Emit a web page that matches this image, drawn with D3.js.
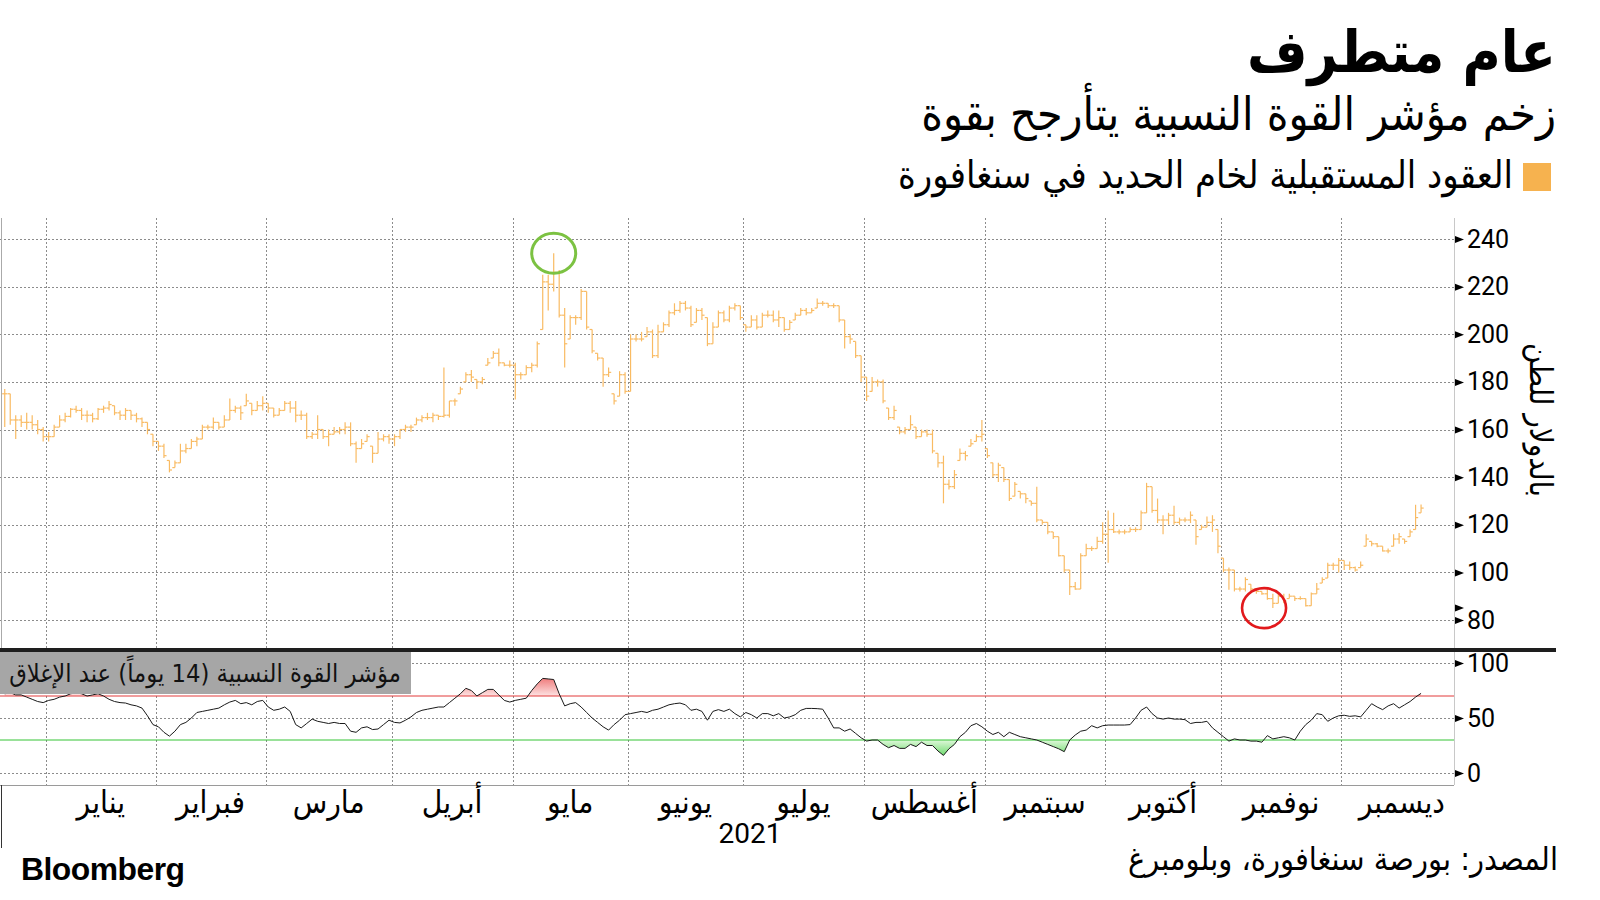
<!DOCTYPE html>
<html><head><meta charset="utf-8">
<script src="https://cdn.jsdelivr.net/npm/d3@7"></script>
<style>body{margin:0;background:#fff;} svg{display:block}</style>
</head><body><svg id="c" width="1600" height="900"></svg>
<script>
// ---------- DATA ----------
const titleText = "عام متطرف";
const subtitleText = "زخم مؤشر القوة النسبية يتأرجح بقوة";
const legendText = "العقود المستقبلية لخام الحديد في سنغافورة";
const yTitle = "بالدولار للطن";
const rsiLabel = "مؤشر القوة النسبية (14 يوماً) عند الإغلاق";
const sourceText = "المصدر: بورصة سنغافورة، وبلومبرغ";
const yearLabel = "2021";
const months = ["يناير","فبراير","مارس","أبريل","مايو","يونيو","يوليو","أغسطس","سبتمبر","أكتوبر","نوفمبر","ديسمبر"];
// trading-day index where each month starts (bar index), last value = end of Dec band
const monthStart = [8,28,48,71,93,114,135,157,179,201,222,244,266];
const priceTicks = [80,100,120,140,160,180,200,220,240];
const rsiTicks = [0,50,100];
const rsiUpper = 70, rsiLower = 30;

const closes = [
175,164,164,163,163,162,160,157,
157,161,164,165.5,168.5,168,166,166,164.5,168.5,169,170.5,167,166,168,166,164.5,163,160,155,
153,149,143,146,151,152,155,156,161,161,163,161,164,168,169,167,172,168,170,171,
169,166,168,171,169,166,166,157,158,160,157,158,159,160,161,154,152,154,157,150,156,157,156,
157,160,161,161,164,165,165,166,165.5,166,172,172,177,183,182,180,181,188,192,188,187,187,
183,183,186,187,196,222,221,226,208,196,207,207,218,203,193,190,183,184,172,183,176,
198,198,198,201,191,201,204,209,210,213,211,204,210,208,196,203,209,206,211,212,207,
203,206,203,208,208,206,207,202,205,208,210,209,210,213,213,212,212,206,199,198,191,182,
174,180,180,172,165,168,159,160,162,157,159,158,151,146,137,136,141,150,149,154,157,158,
149,141,145,139,131,137,133,131,129,122,121,117,115,107,101,94,93,107,110,110,113,116,
118,117,117,117,118,118,125,136,126,122,122,124,121,122,122,124,115,119,121,122,111,
101,101,93,93,97,93,92,91,89,87,90,88,90,89,89,86,91,93,97,103,103,105,
103,102,101,103,114,112,111,109,109,114,115,113,117,123,127];
const highs = [
177,175,166,166,167,166,164,161,
159,162,166,167,169,170,169,168,167,169,170,172,170,168,169,168,167,165,163,158,
155,154,147,147,154,154,156,157,162,162,165,163,166,173,170,170,175,171,172,174,
171,169,169,172,172,172,168,167,159,166,160,160,161,161,163,163,155,156,158,153,159,158,158,
158,160,162,162,165,166,167,167,166,186,172,173,178,184,185,181,182,190,193,194,188,189,
188,184,187,188,197,225,225,234,227,211,208,208,219,218,202,192,190,186,175,184.5,184,
200,200,201,203,202,204,205,210,213,214,214,212,211,211,207,205,210,210,212,213,212,
204,208,208,209,210,210,210,207,206,209,211,211,211,215,214,213,213,212,206,200,197,191,
182,182,181,181,169,170,161,161,166,161,160,160,160,150,149,139,143,152,151,156,158,164,
152,146,146,144,139,138,134,133,130,136,122,121,117,115,107,101,96,108,112,111,115,121,
126,125,118,118,119,119,126,137.6,136,131,124,125,128,123,123,125.6,122,120,123.5,124,118,
106,102,101,94,98,95,93,92,93,91,91,91,91,90,90,89,91.5,95.5,98,104,104,106,
105,104.6,102.5,104.6,116,113,112.3,111,110,116,116.5,114,118,128.4,128.5];
const lows = [
161,162,156,161,160,160,158,155,
155,157,161,163,165,167,164,163,163,164,167,168,166,164,164,164,163,161,158,153,
151,148,142,144,146,150,152,153,156,160,160,160,161,164,167,164,170,166,168,168,
167,165,166,168,167,163,164,156,156,156,156,153,158,158,158,153,146,152,155,146,150,155,154,
153,156,159,159,162,163,164,163,164,165,165,170,175,180,180,177,179,187,190,186.6,186.6,186,
172.6,181,183,184,186,202,210,218,207,186,198,204,206,202,192,189,178,182,170.5,174,175,
176,197,197,199,190,190,201,203,208,209,210,203,205,206,195,196,203,205,205,210,206,
201,203,202,203,207,205,203,201,202,206,208,208,209,211,212,211,211,205,194,196,190,180,
172,176,178,171,164,164,158,158,160,156,157,157,150,144,129,134.8,135,147,147,153,155,155,
148,140,138,138,130,132,131,129,128,121,120,116,114,106.7,100,90.5,92.7,93,107,109,110,112,
104,116.5,116,116,117,117,118,125,125,120.7,116,120,120,120,121,120.7,111.6,118,119,117,108,
100,92.7,92,92,92,92,91,90.6,88.5,85,87,87,89,88,88.5,85.7,86,91,95.5,97.6,101,100,
101,101,100.4,102,111,111,110.5,108.8,108,111,112,112,115,118,125];
const rsi = [
72,73,71,71,69,67,65,64,
66,67,69,70,72,73,72,70,71,72,70,67,65,64,63.6,62,61,59,52,44,
42,37,33.5,38,44,46,50,55,56,57,58,59,62,64.5,66,63,64,62,65,66,
60,57,58,60,56,44,41,45,49,47,46,45,46,45,45,38,37,41,42,39.5,40,44,48,
46,45.5,48,51,55,57,58,59,60,60,64,68,72,77,75,70,73,76,76,71,66,64.5,
66,67,68,75,81,86,85.5,85,72,61,63,64,60,55,50,46,42,39,44,48,53,
54,55,56,55,57,58,60,62,63,63.6,62,57,58,56,48,56,57.6,56,58,54,51,
55,53,50,54,54,52,54,50,51,53,57,58.7,58.7,58.5,58,50,41,41,38,40,36,32,
29,30,30,26,23,25,22.4,22.4,26,24,28,25,25,20,16,22,26,33,37,43,45,42,
38,35,37,33,37,35,33,32,31,30,28,26,24,22,19.4,30,34.5,38,39,43,41,43,
43.6,43.6,43.6,43.6,44,50,57,60,54,50,49,50,49,49,48.5,45,46,46,47,41,37,
33,29,31,30,30,29,29,28,34,31,32,33,32,30,38,44,48,54,53,47,50,52,
52.5,51.5,52,51,57,63,60,57.6,61,63,59,62,65,69,72.4];
// annotation ellipses (bar index, price value)
const highMark = {i: 100, v: 234};
const lowMark = {i: 229.4, v: 85};

// ---------- LAYOUT ----------
const svg = d3.select('#c');
const AR = "'DejaVu Sans Condensed','DejaVu Sans',sans-serif";
const NUM = "Roboto,'Liberation Sans',sans-serif";
const plotL = 2, plotR = 1454, mainTop = 218, mainBot = 650, rsiTop = 652, rsiBot = 785;
const N = closes.length;
const x = d3.scaleLinear().domain([0, 264.5]).range([plotL, plotR]);
const y = d3.scaleLinear().domain([80, 240]).range([620, 239]);
const yR = d3.scaleLinear().domain([0, 100]).range([773, 663]);
const idx = d3.range(N);
const cx = i => x(i + 0.5);

function fit(sel, target){
  const w = sel.node().getComputedTextLength();
  const fs = parseFloat(sel.attr('font-size'));
  sel.attr('font-size', (fs * target / w).toFixed(2));
}

// ---------- HEADER ----------
const t1 = svg.append('text').attr('x', 1556).attr('y', 72).attr('direction','rtl').attr('text-anchor','start')
  .attr('font-family', AR).attr('font-weight','bold').attr('font-size', 54).attr('fill','#000').text(titleText);
fit(t1, 309);
const t2 = svg.append('text').attr('x', 1556).attr('y', 130).attr('direction','rtl').attr('text-anchor','start')
  .attr('font-family', AR).attr('font-size', 38).attr('fill','#000').text(subtitleText);
fit(t2, 635);
svg.append('rect').attr('x', 1523).attr('y', 163).attr('width', 28).attr('height', 28).attr('fill', '#f6b24f');
const t3 = svg.append('text').attr('x', 1513).attr('y', 188).attr('direction','rtl').attr('text-anchor','start')
  .attr('font-family', AR).attr('font-size', 30).attr('fill','#000').text(legendText);
fit(t3, 615);

// ---------- GRID ----------
const grid = svg.append('g').attr('stroke', '#8c8c8c').attr('stroke-width', 1).attr('stroke-dasharray', '2,2').attr('fill','none');
grid.selectAll('line.hm').data(priceTicks).join('line')
  .attr('x1', 0).attr('x2', plotR).attr('y1', d => Math.round(y(d)) + 0.5).attr('y2', d => Math.round(y(d)) + 0.5);
grid.selectAll('line.hr').data(rsiTicks).join('line')
  .attr('x1', 0).attr('x2', plotR).attr('y1', d => Math.round(yR(d)) + 0.5).attr('y2', d => Math.round(yR(d)) + 0.5);
const msLines = monthStart.slice(0, 12);
grid.selectAll('line.vm').data(msLines).join('line')
  .attr('x1', d => Math.round(x(d)) + 0.5).attr('x2', d => Math.round(x(d)) + 0.5).attr('y1', mainTop).attr('y2', mainBot);
grid.selectAll('line.vr').data(msLines).join('line')
  .attr('x1', d => Math.round(x(d)) + 0.5).attr('x2', d => Math.round(x(d)) + 0.5).attr('y1', rsiTop).attr('y2', rsiBot);

// frame lines
svg.append('line').attr('x1', 1.5).attr('x2', 1.5).attr('y1', mainTop).attr('y2', mainBot).attr('stroke', '#aaa');
svg.append('line').attr('x1', plotR + 0.5).attr('x2', plotR + 0.5).attr('y1', mainTop).attr('y2', rsiBot).attr('stroke', '#c8c8c8');
svg.append('line').attr('x1', 0).attr('x2', plotR).attr('y1', rsiBot + 0.5).attr('y2', rsiBot + 0.5).attr('stroke', '#9a9a9a');
svg.append('line').attr('x1', 1.5).attr('x2', 1.5).attr('y1', rsiBot).attr('y2', 848).attr('stroke', '#333');

// ---------- OHLC BARS ----------
const bars = svg.append('g').attr('stroke', '#f9bb63').attr('stroke-width', 1.2).attr('fill', 'none');
const opens = idx.map(i => {
  const o = i === 0 ? closes[0] : closes[i - 1];
  return Math.max(lows[i], Math.min(highs[i], o));
});
bars.selectAll('line.hl').data(idx).join('line')
  .attr('x1', cx).attr('x2', cx).attr('y1', i => y(highs[i])).attr('y2', i => y(lows[i]));
bars.selectAll('line.op').data(idx).join('line')
  .attr('x1', i => cx(i) - 2.6).attr('x2', cx).attr('y1', i => y(opens[i])).attr('y2', i => y(opens[i]));
bars.selectAll('line.cl').data(idx).join('line')
  .attr('x1', cx).attr('x2', i => cx(i) + 2.6).attr('y1', i => y(closes[i])).attr('y2', i => y(closes[i]));

// annotations
svg.append('ellipse').attr('cx', cx(highMark.i)).attr('cy', y(highMark.v)).attr('rx', 22).attr('ry', 20)
  .attr('fill', 'none').attr('stroke', '#7cc242').attr('stroke-width', 3);
svg.append('ellipse').attr('cx', cx(lowMark.i)).attr('cy', y(lowMark.v)).attr('rx', 22).attr('ry', 20)
  .attr('fill', 'none').attr('stroke', '#e2191c').attr('stroke-width', 2.6);

// ---------- RSI ----------
const defs = svg.append('defs');
defs.append('clipPath').attr('id', 'ab').append('rect').attr('x', 0).attr('y', rsiTop).attr('width', plotR).attr('height', yR(rsiUpper) - rsiTop);
defs.append('clipPath').attr('id', 'bl').append('rect').attr('x', 0).attr('y', yR(rsiLower)).attr('width', plotR).attr('height', rsiBot - yR(rsiLower));
const gr = defs.append('linearGradient').attr('id', 'gr').attr('gradientUnits', 'userSpaceOnUse')
  .attr('x1', 0).attr('x2', 0).attr('y1', yR(88)).attr('y2', yR(rsiUpper));
gr.append('stop').attr('offset', 0).attr('stop-color', '#ee7070');
gr.append('stop').attr('offset', 1).attr('stop-color', '#fde3e3');
const gg = defs.append('linearGradient').attr('id', 'gg').attr('gradientUnits', 'userSpaceOnUse')
  .attr('x1', 0).attr('x2', 0).attr('y1', yR(rsiLower)).attr('y2', yR(14));
gg.append('stop').attr('offset', 0).attr('stop-color', '#dff8da');
gg.append('stop').attr('offset', 1).attr('stop-color', '#5fd65f');

svg.append('path').datum(idx).attr('clip-path', 'url(#ab)').attr('fill', 'url(#gr)')
  .attr('d', d3.area().x(cx).y0(yR(rsiUpper)).y1(i => yR(rsi[i])));
svg.append('path').datum(idx).attr('clip-path', 'url(#bl)').attr('fill', 'url(#gg)')
  .attr('d', d3.area().x(cx).y0(yR(rsiLower)).y1(i => yR(rsi[i])));
svg.append('line').attr('x1', 0).attr('x2', plotR).attr('y1', yR(rsiUpper)).attr('y2', yR(rsiUpper)).attr('stroke', '#e23b3b').attr('stroke-width', 1);
svg.append('line').attr('x1', 0).attr('x2', plotR).attr('y1', yR(rsiLower)).attr('y2', yR(rsiLower)).attr('stroke', '#35c435').attr('stroke-width', 1);
svg.append('path').datum(idx).attr('fill', 'none').attr('stroke', '#1a1a1a').attr('stroke-width', 1)
  .attr('d', d3.line().x(cx).y(i => yR(rsi[i])));

// RSI label box
svg.append('rect').attr('x', 0).attr('y', 650).attr('width', 411).attr('height', 44).attr('fill', '#a6a6a6');
const rl = svg.append('text').attr('x', 401).attr('y', 682).attr('direction','rtl').attr('text-anchor','start')
  .attr('font-family', AR).attr('font-size', 24).attr('fill', '#111').text(rsiLabel);
fit(rl, 392);

// separator
svg.append('line').attr('x1', 0).attr('x2', 1556).attr('y1', 650).attr('y2', 650).attr('stroke', '#1e1e1e').attr('stroke-width', 4);

// ---------- AXES ----------
const tri = "M0,-3.5L9,0L0,3.5Z";
const ax1 = svg.append('g').attr('transform', `translate(${plotR},0)`)
  .call(d3.axisRight(y).tickValues(priceTicks).tickSize(0).tickPadding(13).tickFormat(d3.format('d')));
const ax2 = svg.append('g').attr('transform', `translate(${plotR},0)`)
  .call(d3.axisRight(yR).tickValues(rsiTicks).tickSize(0).tickPadding(13).tickFormat(d3.format('d')));
[ax1, ax2].forEach(a => {
  a.select('.domain').remove();
  a.selectAll('text').attr('font-family', NUM).attr('font-size', 25).attr('fill', '#000');
  a.selectAll('.tick').append('path').attr('d', tri).attr('transform', 'translate(1,0)').attr('fill', '#000');
});
// extra marker for the period low
svg.append('path').attr('d', tri).attr('transform', `translate(${plotR + 1},${y(d3.min(lows))})`).attr('fill', '#000');

const yt = svg.append('text').attr('transform', 'translate(1541,420) rotate(90)').attr('text-anchor', 'middle')
  .attr('dominant-baseline', 'central').attr('font-family', AR).attr('font-size', 24).attr('fill', '#000').text(yTitle);
fit(yt, 154);

// month labels
const ml = svg.append('g');
const mLabels = ml.selectAll('text').data(months).join('text')
  .attr('x', (d, k) => x((monthStart[k] + monthStart[k + 1]) / 2)).attr('y', 813)
  .attr('text-anchor', 'middle').attr('font-family', AR).attr('font-size', 26).attr('fill', '#000').text(d => d);
let tot = 0; mLabels.each(function(){ tot += this.getComputedTextLength(); });
mLabels.attr('font-size', (26 * 823 / tot).toFixed(2));
svg.append('text').attr('x', 750).attr('y', 843).attr('text-anchor', 'middle').attr('font-family', NUM)
  .attr('font-size', 28).attr('fill', '#000').text(yearLabel);

// ---------- FOOTER ----------
const src = svg.append('text').attr('x', 1558).attr('y', 870).attr('direction','rtl').attr('text-anchor','start')
  .attr('font-family', AR).attr('font-size', 26).attr('fill', '#000').text(sourceText);
fit(src, 430);
const bb = svg.append('text').attr('x', 21).attr('y', 880).attr('font-family', "'Liberation Sans',Arial,sans-serif")
  .attr('font-weight', 'bold').attr('font-size', 28).attr('letter-spacing', -0.5).attr('fill', '#000').text('Bloomberg');
fit(bb, 163);
</script></body></html>
